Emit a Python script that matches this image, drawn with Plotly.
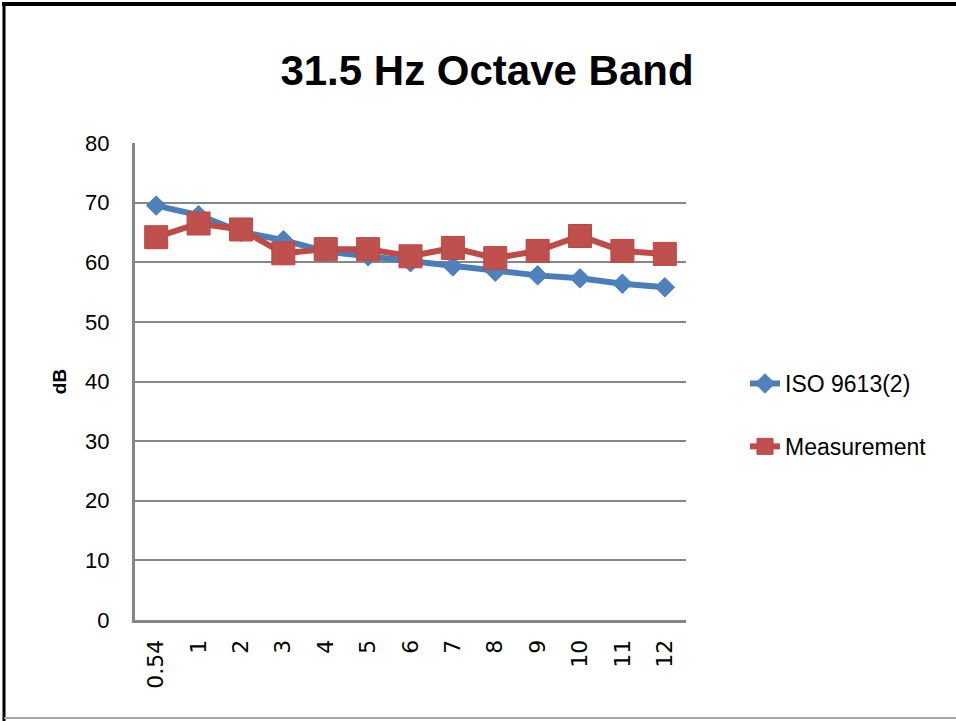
import plotly.graph_objects as go

# Distance from source (m) and octave-band levels (dB)
distances = ["0.54", "1", "2", "3", "4", "5", "6", "7", "8", "9", "10", "11", "12"]
iso_9613 = [69.5, 67.9, 65.1, 63.7, 61.8, 61.0, 60.0, 59.3, 58.4, 57.8, 57.3, 56.4, 55.8]
measurement = [64.2, 66.5, 65.5, 61.5, 62.2, 62.2, 61.0, 62.4, 60.7, 61.9, 64.4, 61.9, 61.4]
y_ticks = [0, 10, 20, 30, 40, 50, 60, 70, 80]

W, H = 956, 721
L, R, T, B = 135, 686, 143, 620  # plot area in pixels

def px_x(x):
    return (x - L) / (R - L)

def px_y(y):
    return (B - y) / (B - T)

body_font = "Liberation Sans, sans-serif"

fig = go.Figure()
fig.add_trace(go.Scatter(
    x=distances, y=iso_9613, name="ISO 9613(2)", mode="lines+markers",
    legendgroup="a",
    line=dict(color="#4A7EBB", width=6),
    marker=dict(symbol="diamond", size=15, color="#4F81BD",
                line=dict(color="#4A7EBB", width=1)),
))
fig.add_trace(go.Scatter(
    x=distances, y=measurement, name="Measurement", mode="lines+markers",
    legendgroup="b",
    line=dict(color="#BE4B48", width=6),
    marker=dict(symbol="square", size=23, color="#C0504D",
                line=dict(color="#B84845", width=1)),
))

fig.update_layout(
    width=W, height=H,
    margin=dict(l=L, r=W - R, t=T, b=H - B, autoexpand=False),
    paper_bgcolor="white", plot_bgcolor="white",
    title=dict(text="<b>31.5 Hz Octave Band</b>", x=487 / W, xanchor="center",
               y=1 - 70 / H, yanchor="middle", yref="container",
               font=dict(family=body_font, size=42, color="black")),
    showlegend=True,
    legend=dict(x=px_x(745), xanchor="left", y=px_y(415), yanchor="middle",
                traceorder="grouped", tracegroupgap=30,
                font=dict(family=body_font, size=23, color="black"),
                bgcolor="rgba(0,0,0,0)"),
    font=dict(family=body_font, color="black"),
)

fig.update_xaxes(
    type="category", categoryorder="array", categoryarray=distances,
    range=[-0.5, len(distances) - 0.5],
    showline=True, linecolor="#868686", linewidth=3,
    showgrid=False, tickangle=-90, ticks="", ticklabelstandoff=8,
    tickfont=dict(family="DejaVu Sans", size=22, color="black"),
    automargin=False,
)
fig.update_yaxes(
    range=[0, 80], tickvals=y_ticks, showline=True, linecolor="#868686",
    linewidth=3, showgrid=True, gridcolor="#868686", gridwidth=2,
    zeroline=False, ticks="", ticklabelstandoff=18,
    tickfont=dict(family=body_font, size=22, color="black"),
    title=dict(text="<b>dB</b>", standoff=14,
               font=dict(family=body_font, size=19, color="black")),
    automargin=False,
)

# Frame around the chart
fig.add_shape(type="line", xref="paper", yref="paper",
              x0=px_x(2), x1=px_x(W + 5), y0=px_y(4), y1=px_y(4),
              line=dict(color="black", width=4))
fig.add_shape(type="line", xref="paper", yref="paper",
              x0=px_x(4), x1=px_x(4), y0=px_y(2), y1=px_y(H + 5),
              line=dict(color="black", width=3))
fig.add_shape(type="line", xref="paper", yref="paper",
              x0=px_x(4), x1=px_x(W + 5), y0=px_y(718), y1=px_y(718),
              line=dict(color="#A6A6A6", width=2))

fig.write_html("out.html")
